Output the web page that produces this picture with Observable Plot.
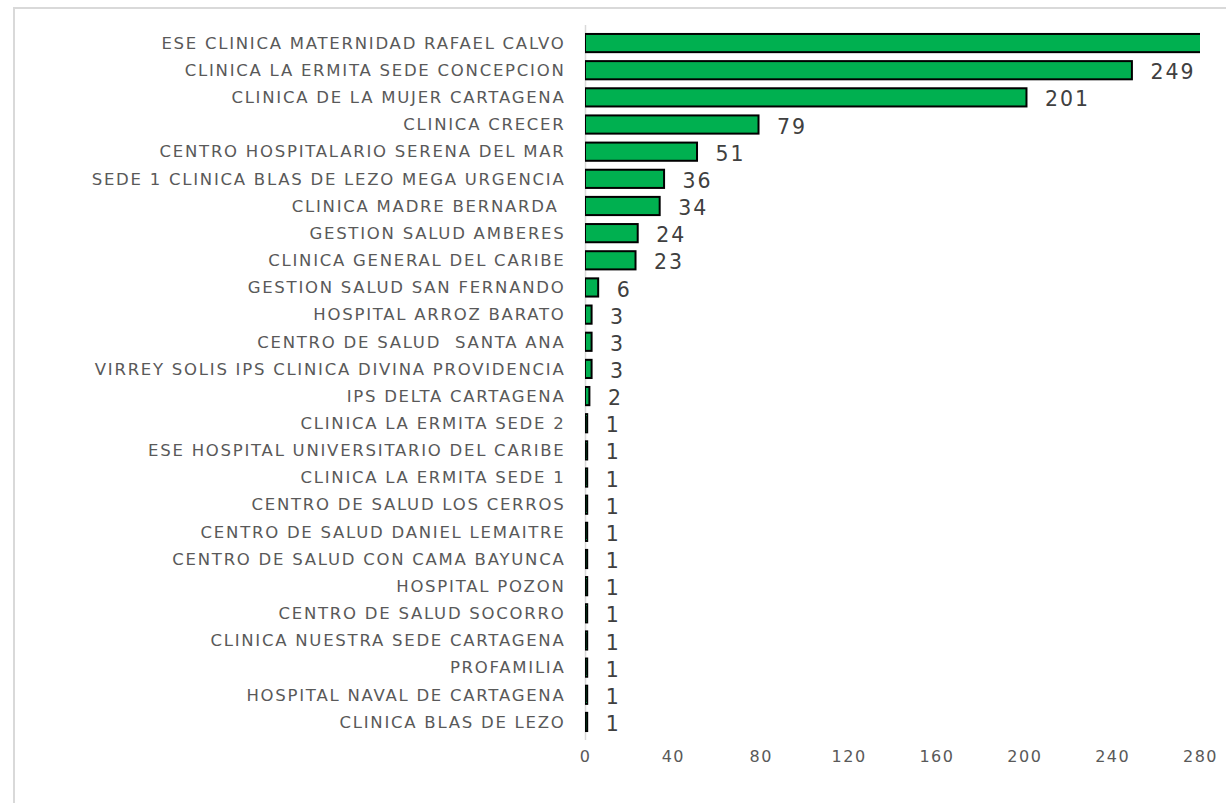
<!DOCTYPE html>
<html>
<head>
<meta charset="utf-8">
<script src="https://cdn.jsdelivr.net/npm/d3@7"></script>
<script src="https://cdn.jsdelivr.net/npm/@observablehq/plot@0.6"></script>
<style>
  html, body { margin: 0; padding: 0; background: #fff; overflow: hidden; }
  #frame { position: absolute; left: 13px; top: 7px; width: 1300px; height: 900px;
           border-left: 2px solid #d9d9d9; border-top: 2px solid #d9d9d9; }
  #chart { position: absolute; left: 0; top: 0; }
  g[aria-label="y-axis tick label"] { letter-spacing: 1.75px; }
  g[aria-label="x-axis tick label"] { letter-spacing: 1.5px; }
  g[aria-label="text"] { letter-spacing: 2px; }
</style>
</head>
<body>
<div id="frame"></div>
<div id="chart"></div>
<script>
const categories = [
  "ESE CLINICA MATERNIDAD RAFAEL CALVO",
  "CLINICA LA ERMITA SEDE CONCEPCION",
  "CLINICA DE LA MUJER CARTAGENA",
  "CLINICA CRECER",
  "CENTRO HOSPITALARIO SERENA DEL MAR",
  "SEDE 1 CLINICA BLAS DE LEZO MEGA URGENCIA",
  "CLINICA MADRE BERNARDA ",
  "GESTION SALUD AMBERES",
  "CLINICA GENERAL DEL CARIBE",
  "GESTION SALUD SAN FERNANDO",
  "HOSPITAL ARROZ BARATO",
  "CENTRO DE SALUD  SANTA ANA",
  "VIRREY SOLIS IPS CLINICA DIVINA PROVIDENCIA",
  "IPS DELTA CARTAGENA",
  "CLINICA LA ERMITA SEDE 2",
  "ESE HOSPITAL UNIVERSITARIO DEL CARIBE",
  "CLINICA LA ERMITA SEDE 1",
  "CENTRO DE SALUD LOS CERROS",
  "CENTRO DE SALUD DANIEL LEMAITRE",
  "CENTRO DE SALUD CON CAMA BAYUNCA",
  "HOSPITAL POZON",
  "CENTRO DE SALUD SOCORRO",
  "CLINICA NUESTRA SEDE CARTAGENA",
  "PROFAMILIA",
  "HOSPITAL NAVAL DE CARTAGENA",
  "CLINICA BLAS DE LEZO"
];
// first value runs past the axis maximum (its label is not visible in the source)
const values = [300, 249, 201, 79, 51, 36, 34, 24, 23, 6, 3, 3, 3, 2, 1, 1, 1, 1, 1, 1, 1, 1, 1, 1, 1, 1];
const xTicks = [0, 40, 80, 120, 160, 200, 240, 280];

const data = categories.map((c, i) => ({ name: c, value: values[i] }));

const plot = Plot.plot({
  width: 1226,
  height: 803,
  marginLeft: 585,
  marginRight: 26,
  marginTop: 25,
  marginBottom: 63,
  style: { fontFamily: "'DejaVu Sans', Verdana, sans-serif", background: "transparent", overflow: "visible" },
  x: { domain: [0, 280], ticks: xTicks, axis: null },
  y: { domain: categories, padding: 0.33, round: false, axis: null },
  marks: [
    Plot.ruleX([0], { stroke: "#d9d9d9", strokeWidth: 1.5 }),
    Plot.barX(data, { x: "value", y: "name", fill: "#00b050", stroke: "#000", strokeWidth: 2, clip: true }),
    Plot.text(data.filter(d => d.value <= 280), {
      x: "value", y: "name", text: d => String(d.value), textAnchor: "start", dx: 18, dy: 2,
      fill: "#404040", fontSize: 20.5
    }),
    Plot.axisY({ tickSize: 0, tickPadding: 20, fontSize: 16.5, color: "#595959", label: null }),
    Plot.axisX({ ticks: xTicks, tickSize: 0, tickPadding: 10, fontSize: 16, color: "#595959", label: null })
  ]
});
plot.querySelectorAll("[aria-label='y-axis tick label'] text").forEach(t => t.setAttribute("xml:space", "preserve"));
document.getElementById("chart").appendChild(plot);
</script>
</body>
</html>
